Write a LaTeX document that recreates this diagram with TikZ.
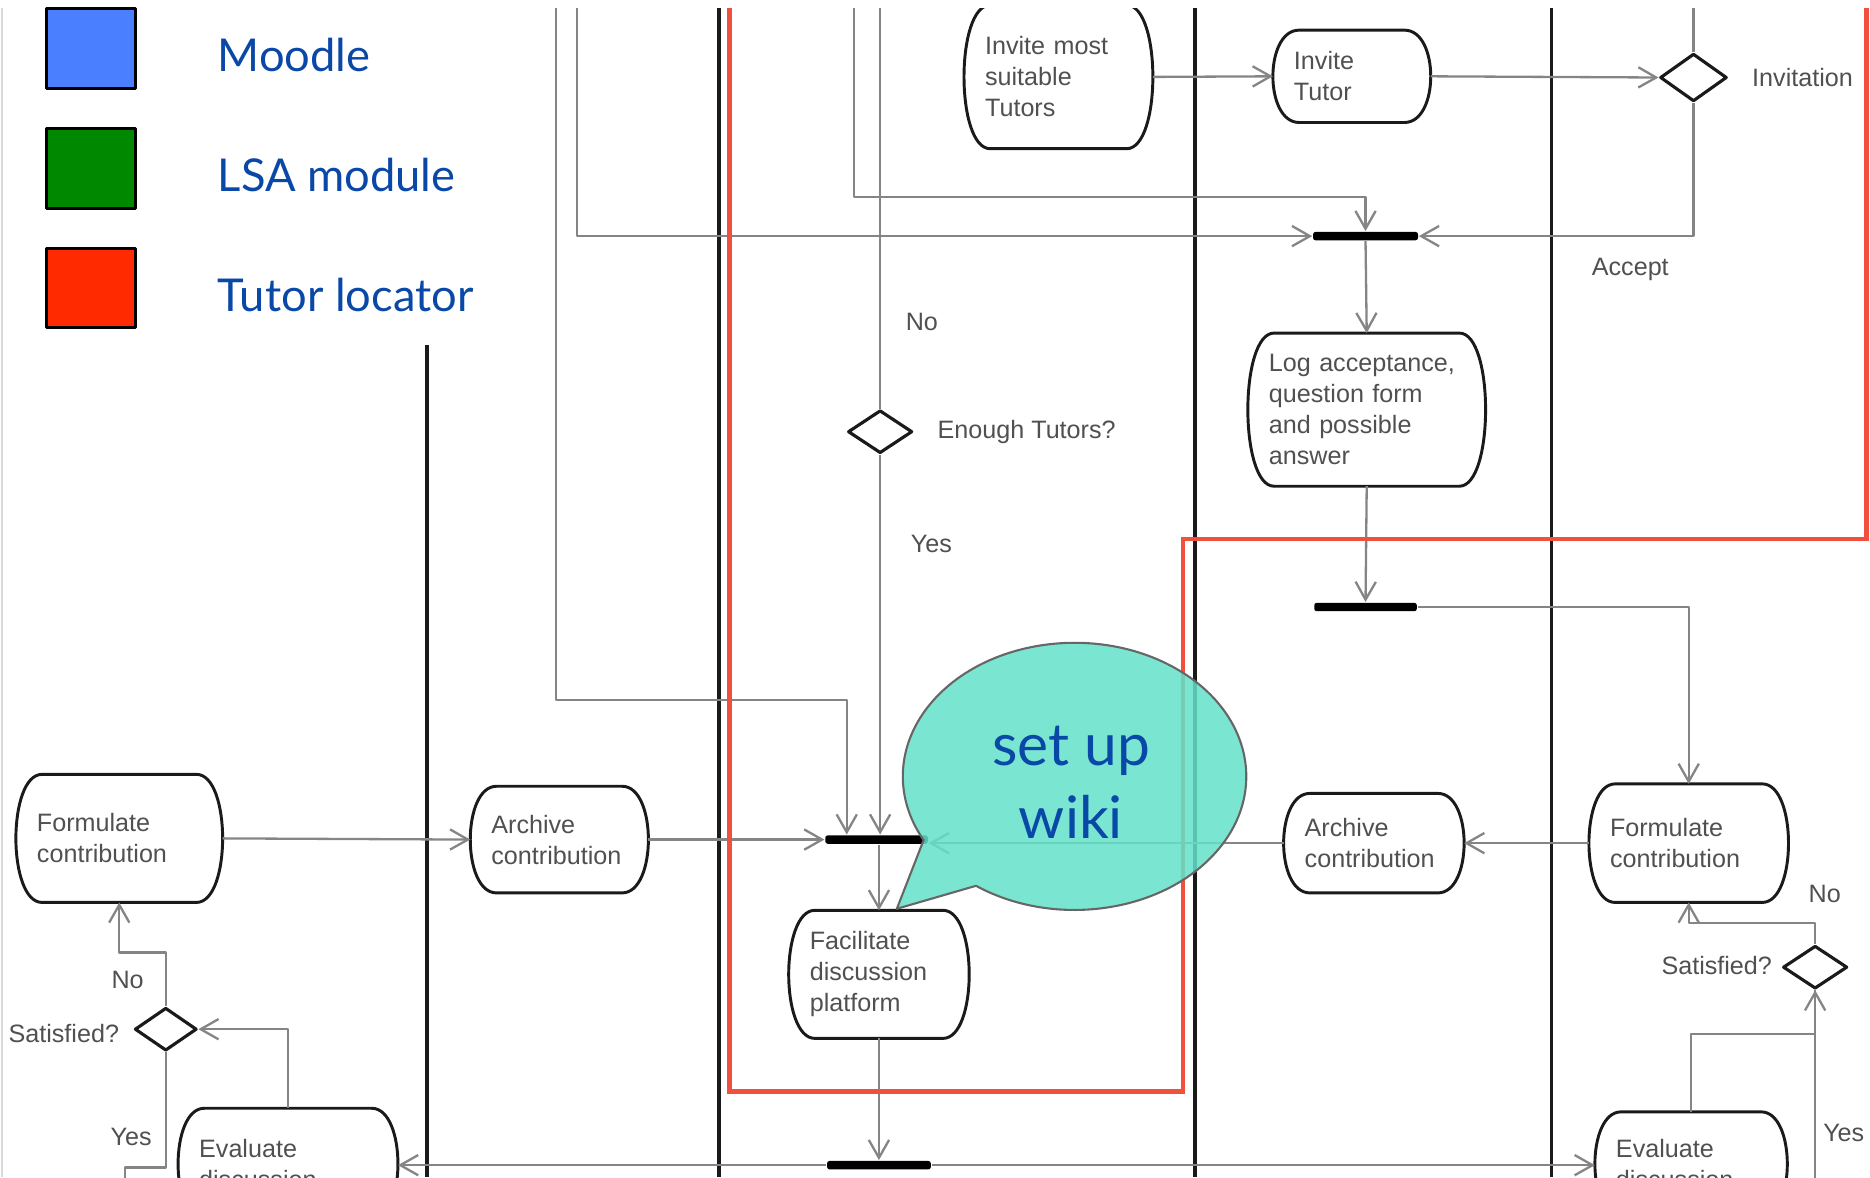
\documentclass[tikz,border=0pt]{standalone}
\usepackage{fontspec}
\setmainfont{Liberation Sans}
\newfontfamily\legendfont{Lato}
\usetikzlibrary{arrows.meta,positioning,calc,shapes.geometric}
\definecolor{Ink}{HTML}{1A1A1A}
\definecolor{Wire}{HTML}{858585}
\definecolor{Label}{HTML}{505050}
\definecolor{LegendBlue}{HTML}{0A48A8}
\definecolor{MoodleBlue}{HTML}{4A7FFF}
\definecolor{LsaGreen}{HTML}{008800}
\definecolor{LocatorRed}{HTML}{FF2A00}
\definecolor{Frame}{HTML}{F2503F}
\definecolor{Bubble}{HTML}{63E2CA}
\tikzset{
  act/.style={draw=none,align=left,inner xsep=1.7mm,inner ysep=0pt,font=\fontsize{6}{7.4}\selectfont,text=Label},
  actline/.style={draw=Ink,line width=0.7pt},
  syncbar/.style={fill=black,inner sep=0pt,minimum height=0.7mm,rounded corners=0.2mm},
  choice/.style={diamond,draw=Ink,line width=0.75pt,fill=white,inner sep=0pt},
  flow/.style={-{Straight Barb[length=1.5mm,width=1.7mm]},draw=Wire,line width=0.55pt},
  wire/.style={draw=Wire,line width=0.55pt},
  lane/.style={draw=Ink,line width=0.9pt},
  lbl/.style={font=\fontsize{6}{7.4}\selectfont,text=Label,inner sep=1pt},
  legsq/.style={draw=black,line width=0.7pt,minimum width=7.5mm,minimum height=6.7mm,inner sep=0pt},
  legtxt/.style={font=\legendfont\fontsize{10.8}{13}\selectfont,text=LegendBlue,anchor=base west,inner sep=0pt},
}

\begin{document}
\begin{tikzpicture}[x=0.1mm,y=-0.1mm,line join=round]
\useasboundingbox (0,0) rectangle (1568,987);
\begin{scope}
\clip (0,7) rectangle (1568,987);
% swimlanes
\draw[black!15,line width=0.6pt] (1.5,7) -- (1.5,987);
\draw[lane] (358,289) -- (358,987);
\foreach \x in {603,1002,1301} \draw[lane] (\x,7) -- (\x,987);
% loose ends at the cut edges
\coordinate (inA) at (466,7); \coordinate (inB) at (484,7);
\coordinate (inC) at (716,7); \coordinate (inD) at (738,7);
\coordinate (inE) at (1420,7);
\coordinate (outL) at (105,995); \coordinate (outR) at (1522,995);
% activities
\node[act,text width=12.3mm,minimum height=11.9mm] (invite) at (887.5,64.5) {Invite most\\suitable\\Tutors};
\node[act,text width=9.7mm,minimum height=7.6mm] (invtut) at (1133.5,64) {Invite\\Tutor};
\node[act,text width=16.4mm,minimum height=12.7mm] (logacc) at (1146,343.5) {Log acceptance,\\question form\\and possible\\answer};
\node[act,text width=13.2mm,minimum height=9.8mm] (fmR) at (1416,707) {Formulate\\contribution};
\node[act,text width=11.6mm,minimum height=8.2mm] (arR) at (1152,707) {Archive\\contribution};
\node[act,text width=13.8mm,minimum height=10.6mm] (fmL) at (100,703) {Formulate\\contribution};
\node[act,text width=11.4mm,minimum height=8.8mm] (arL) at (469,704) {Archive\\contribution};
\node[act,text width=11.6mm,minimum height=10.6mm] (facil) at (737,817) {Facilitate\\discussion\\platform};
\node[act,text width=14.9mm,minimum height=9.2mm] (evL) at (241.5,976) {Evaluate\\discussion};
\node[act,text width=12.6mm,minimum height=8.6mm] (evR) at (1418,976) {Evaluate\\discussion};
\foreach \n in {invite,invtut,logacc,fmR,arR,fmL,arL,facil,evL,evR}
  \draw[actline] ([xshift=2.2mm]\n.north west) -- ([xshift=-2.2mm]\n.north east)
    .. controls ([xshift=0.73mm]\n.north east) and ([xshift=0.73mm]\n.south east) .. ([xshift=-2.2mm]\n.south east)
    -- ([xshift=2.2mm]\n.south west)
    .. controls ([xshift=-0.73mm]\n.south west) and ([xshift=-0.73mm]\n.north west) .. cycle;
% decisions and bars
\node[choice,minimum width=5.4mm,minimum height=3.6mm] (enough) at (738,362) {};
\node[choice,minimum width=5.6mm,minimum height=4mm] (invdec) at (1420,65) {};
\node[choice,minimum width=5.2mm,minimum height=3.6mm] (satL) at (139,863) {};
\node[choice,minimum width=5.4mm,minimum height=3.6mm] (satR) at (1522,811) {};
\node[syncbar,minimum width=8.8mm] (joinA) at (1145,198) {};
\node[syncbar,minimum width=8.6mm] (barB) at (1145,509) {};
\node[syncbar,minimum width=8.6mm] (forkA) at (735,704) {};
\node[syncbar,minimum width=8.7mm] (barC) at (737,977) {};
% flows
\draw[flow] (inA) -- (466,587) -| ([xshift=-2.5mm]forkA.north);
\draw[flow] (inB) |- (joinA.west);
\draw[flow] (inC) -- (716,165) -| (joinA.north);
\draw[wire] (inD) -- (enough.north);
\draw[flow] (enough.south) -- (enough.south |- forkA.north);
\draw[flow] (invite.east) -- (invtut.west);
\draw[flow] (invtut.east) -- (invdec.west);
\draw[wire] (invdec.north) -- (inE);
\draw[flow] (invdec.south) |- (joinA.east);
\draw[flow] (joinA.south) -- (logacc.north);
\draw[flow] (logacc.south) -- (barB.north);
\draw[flow] (barB.east) -| (fmR.north);
\draw[flow] (fmR.west) -- (arR.east);
\draw[flow] (arR.west) -- (arR.west -| forkA.east);
\draw[flow] (fmL.east) -- (arL.west);
\draw[flow] (arL.east) -- (arL.east -| forkA.west);
\draw[flow] (facil.north |- forkA.south) -- (facil.north);
\draw[flow] (facil.south) -- (barC.north);
\draw[flow] (barC.west) -- (barC.west -| evL.east);
\draw[flow] (barC.east) -- (barC.east -| evR.west);
\draw[flow] (satL.north) -- ++(0,-45) -| (fmL.south);
\draw[flow] (evL.north) |- (satL.east);
\draw[wire] (satL.south) -- (139,979) -| (outL);
\draw[flow] (evR.north) -- ++(0,-65) -| (satR.south);
\draw[flow] (satR.north) -- ++(0,-18) -| (fmR.south);
\draw[wire] (satR.south) -- (outR);
% guard labels
\node[lbl] (noEnough) at (773,270) {No};
\node[lbl] (yesEnough) at (781,456) {Yes};
\node[lbl,anchor=west] (enoughTxt) at (782,362) {Enough Tutors?};
\node[lbl,anchor=west] (invTxt) at (1465,65) {Invitation};
\node[lbl] (acceptTxt) at (1367,226) {Accept};
\node[lbl] (noL) at (107,822) {No};
\node[lbl,anchor=east] (satLTxt) at (104,867) {Satisfied?};
\node[lbl] (yesL) at (110,953) {Yes};
\node[lbl,anchor=east] (satRTxt) at (1490,810) {Satisfied?};
\node[lbl] (noR) at (1530,750) {No};
\node[lbl] (yesR) at (1546,950) {Yes};
% tutor locator frame
\draw[Frame,line width=1.15pt,line join=miter] (612,7) -- (612,915) -- (992,915) -- (992,452) -- (1565,452) -- (1565,7);
% callout
\coordinate (tip) at (752,762);
\coordinate (bc) at (901,651);
\filldraw[fill=Bubble,fill opacity=0.85,draw=black!60,line width=0.5pt] (tip) -- ($(bc)+(235:14.4mm and 11.2mm)$)
  arc[start angle=235,end angle=568.5,x radius=14.4mm,y radius=11.2mm] -- cycle;
\node[font=\legendfont\fontsize{14}{17.4}\selectfont,text=LegendBlue,align=center] (wiki) at (898,656) {set up\\wiki};
\end{scope}
% legend
\node[legsq,fill=MoodleBlue] (sqMoodle) at (76.5,40.5) {};
\node[legsq,fill=LsaGreen] (sqLsa) at (76.5,141.5) {};
\node[legsq,fill=LocatorRed] (sqTutor) at (76.5,241.5) {};
\node[legtxt] (txtMoodle) at (182,60) {Moodle};
\node[legtxt] (txtLsa) at (182,161) {LSA module};
\node[legtxt] (txtTutor) at (182,261) {Tutor locator};
\end{tikzpicture}
\end{document}
